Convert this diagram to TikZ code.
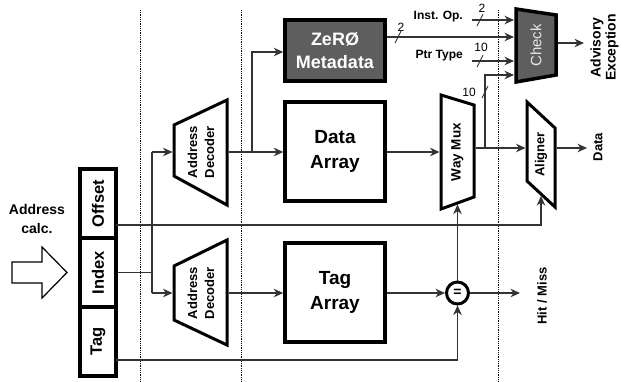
\documentclass[tikz,border=0pt]{standalone}
\usepackage{fontspec}
\setmainfont{Liberation Sans}
\usetikzlibrary{arrows.meta}
\definecolor{zgray}{HTML}{5E5E5E}
\definecolor{ln}{HTML}{333333}
\definecolor{ctext}{HTML}{E6E6E6}
\newcommand{\fs}[2]{\fontsize{#1}{#2}\selectfont}
\begin{document}
\begin{tikzpicture}[x=1pt,y=-1pt,
  wire/.style={draw=ln,line width=1.1pt},
  arr/.style={wire,-{Stealth[length=9.5pt,width=8.5pt,inset=3pt]}},
  blk/.style={draw=black,line width=3.5pt,line join=miter},
  trap/.style={draw=black,line width=3pt,line join=miter},
  lbl/.style={font=\bfseries\fs{13}{17},align=center,inner sep=0pt},
  vlbl/.style={lbl,rotate=90},
  field/.style={blk,minimum width=36pt,minimum height=69pt,inner sep=0pt},
  arrbox/.style={blk,minimum width=100pt,minimum height=99pt,align=center,font=\bfseries\fs{19}{25}},
  slash/.style={draw=ln,line width=0.9pt},
  num/.style={font=\fs{12}{14},inner sep=0pt},
  sep/.style={draw=black,densely dotted,line width=0.8pt}]
\useasboundingbox (0,0) rectangle (621,381);

% separators
\draw[sep] (140,10) -- (140,381);
\draw[sep] (241,10) -- (241,381);
\draw[sep] (498,10) -- (498,381);

% address fields
\node[field] (offset) at (98,203.5) {};
\node[field] (index) at (98,272.5) {};
\node[field] (tag) at (98,341.5) {};
\node[vlbl,font=\bfseries\fs{16.5}{18}] (offtxt) at (98,203.5) {Offset};
\node[vlbl,font=\bfseries\fs{16.5}{18}] (idxtxt) at (98,272.5) {Index};
\node[vlbl,font=\bfseries\fs{16.5}{18}] (tagtxt) at (98,341.5) {Tag};

% address calc
\node[lbl,font=\bfseries\fs{14}{19}] (calc) at (37,219) {Address\\calc.};
\draw[line width=1.2pt,line join=miter] (12,262) -- (42,262) -- (42,247) -- (67,272.5) -- (42,298) -- (42,283) -- (12,283) -- cycle;

% address decoders
\draw[trap,fill=white] (174,125) -- (227,100) -- (227,205) -- (174,176) -- cycle;
\node[vlbl,font=\bfseries\fs{13}{17}] (dec1) at (201,152) {Address\\Decoder};
\coordinate (dec1in) at (172.5,152);
\coordinate (dec1out) at (228.5,152);
\draw[trap,fill=white] (174,266) -- (227,240) -- (227,345) -- (174,320) -- cycle;
\node[vlbl,font=\bfseries\fs{13}{17}] (dec2) at (201,293) {Address\\Decoder};
\coordinate (dec2in) at (172.5,293);
\coordinate (dec2out) at (228.5,293);

% arrays
\node[blk,fill=zgray,minimum width=100pt,minimum height=61pt,align=center,text=white,font=\bfseries\fs{18}{23}] (zero) at (335,50.5) {ZeRØ\\Metadata};
\node[arrbox] (data) at (335,151.5) {Data\\Array};
\node[arrbox] (tagarr) at (335,292.5) {Tag\\Array};

% way mux
\draw[trap,fill=white] (441,95) -- (474,105) -- (474,197) -- (441,209) -- cycle;
\node[vlbl,font=\bfseries\fs{13.5}{16}] (waymux) at (457.5,152) {Way Mux};
\coordinate (wmin) at (439.5,152);
\coordinate (wmout) at (475.5,148);
\coordinate (wmbot) at (457.5,204.5);

% aligner
\draw[trap,fill=white] (527,102) -- (555,128) -- (555,207) -- (527,181) -- cycle;
\node[vlbl,font=\bfseries\fs{13}{16}] (aligner) at (541,154.5) {Aligner};
\coordinate (alin) at (525.5,148);
\coordinate (alout) at (556.5,148);
\coordinate (albot) at (541,196);

% check
\draw[trap,fill=zgray,line width=3.5pt] (516,9) -- (556,15) -- (556,75) -- (516,82) -- cycle;
\node[rotate=90,text=ctext,font=\fs{15}{17},inner sep=0pt] (check) at (536,45.5) {Check};
\coordinate (ck1) at (514,20);
\coordinate (ck2) at (514,37);
\coordinate (ck3) at (514,61);
\coordinate (ck4) at (514,75);
\coordinate (ckout) at (558,43);

% comparator
\node[draw=black,circle,line width=3pt,minimum size=22pt,inner sep=0pt,font=\bfseries\fs{14}{14}] (eq) at (457.5,293) {=};

% output labels
\node[vlbl,font=\bfseries\fs{13}{15}] (hitmiss) at (542,296) {Hit / Miss};
\node[vlbl,font=\bfseries\fs{13}{15}] (dataout) at (598,147) {Data};
\node[vlbl,font=\bfseries\fs{14}{15}] (advexc) at (604.5,47.5) {Advisory\\Exception};
\coordinate (hmend) at (520,293);
\coordinate (dataend) at (587,148);
\coordinate (advend) at (584,43);

% input labels to check
\node[lbl,font=\bfseries\fs{12}{14},anchor=east] (instop) at (463,17) {Inst. Op.};
\node[lbl,font=\bfseries\fs{12}{14},anchor=east] (ptrtype) at (463,56) {Ptr Type};
\coordinate (iostart) at (472,20);
\coordinate (ptstart) at (472,61);

% wires: address fields
\coordinate (offtap) at (116,225);
\coordinate (offturn) at (541,225);
\draw[arr] (offtap) -- (offturn) -- (albot);
\coordinate (idxsplit) at (152,272.5);
\coordinate (idxtop) at (152,152);
\coordinate (idxbot) at (152,293);
\draw[wire] (index.east) -- (idxsplit);
\draw[wire] (idxtop) -- (idxbot);
\draw[arr] (idxtop) -- (dec1in);
\draw[arr] (idxbot) -- (dec2in);
\coordinate (tagtap) at (116,360);
\coordinate (tagturn) at (457.5,360);
\draw[arr] (tagtap) -- (tagturn) -- (eq.south);

% wires: decoders to arrays
\draw[arr] (dec1out) -- (data.west |- dec1out);
\coordinate (zbranch) at (252,152);
\coordinate (zturn) at (252,52);
\draw[arr] (zbranch) -- (zturn) -- (zero.west |- zturn);
\draw[arr] (dec2out) -- (tagarr.west |- dec2out);

% arrays to mux / comparator
\draw[arr] (data.east |- wmin) -- (wmin);
\draw[arr] (tagarr.east |- eq) -- (eq.west);
\draw[arr] (eq.north) -- (wmbot);
\draw[arr] (eq.east) -- (hmend);

% mux to aligner and check
\draw[arr] (wmout) -- (alin);
\coordinate (wbranch) at (485,148);
\coordinate (wturn) at (485,75);
\draw[arr] (wbranch) -- (wturn) -- (ck4);
\draw[arr] (alout) -- (dataend);

% check inputs
\draw[arr] (zero.east |- ck2) -- (ck2);
\draw[arr] (iostart) -- (ck1);
\draw[arr] (ptstart) -- (ck3);
\draw[arr] (ckout) -- (advend);

% bus width marks
\draw[slash] (395,43) -- (401,31);
\node[num] (w1) at (401,27) {2};
\draw[slash] (477,26) -- (483,14);
\node[num] (w2) at (482,8) {2};
\draw[slash] (477,67) -- (483,55);
\node[num] (w3) at (481,47) {10};
\draw[slash] (482,98) -- (488,86);
\node[num] (w4) at (469,92) {10};
\end{tikzpicture}
\end{document}
